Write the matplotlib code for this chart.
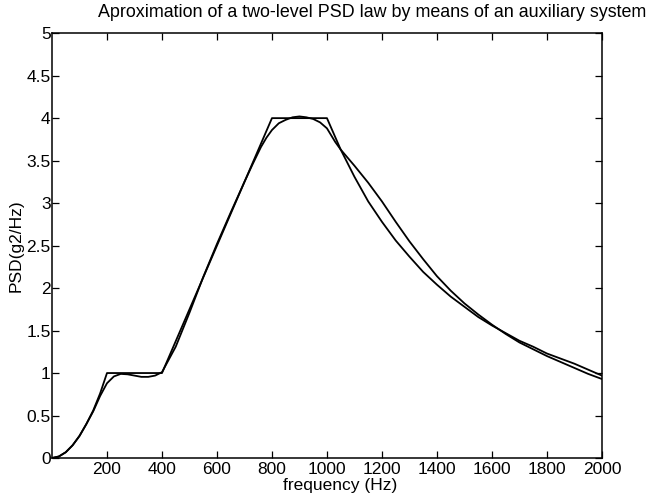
import matplotlib
matplotlib.use("Agg")
import matplotlib.pyplot as plt

plt.rcParams['font.family'] = ['Liberation Sans', 'DejaVu Sans']

# Target two-level PSD law (piecewise)
target_f = [0, 25, 50, 75, 100, 125, 150, 175, 200, 400, 800, 1000,
            1050, 1100, 1150, 1200, 1250, 1300, 1350, 1400, 1450, 1500,
            1550, 1600, 1650, 1700, 1750, 1800, 1850, 1900, 1950, 2000]
target_psd = [0, 0.018, 0.068, 0.15, 0.26, 0.40, 0.56, 0.76, 1.0, 1.0, 4.0, 4.0,
              3.63, 3.31, 3.02, 2.78, 2.56, 2.37, 2.19, 2.04, 1.90, 1.78,
              1.66, 1.56, 1.47, 1.38, 1.31, 1.23, 1.17, 1.11, 1.04, 0.97]

# Approximation obtained with the auxiliary system
approx_f = [0, 25, 50, 75, 100, 125, 150, 175, 200, 225, 250, 275, 300, 325, 350,
            375, 400, 450, 500, 550, 600, 650, 700, 730, 760, 780, 800, 825, 850,
            875, 900, 925, 950, 975, 1000, 1030, 1050, 1100, 1150, 1200, 1250,
            1300, 1350, 1400, 1450, 1500, 1550, 1600, 1650, 1700, 1750, 1800,
            1850, 1900, 1950, 2000]
approx_psd = [0, 0.018, 0.068, 0.15, 0.26, 0.40, 0.55, 0.73, 0.88, 0.96, 0.99, 0.985, 0.97, 0.955, 0.955,
              0.97, 1.01, 1.31, 1.71, 2.13, 2.52, 2.89, 3.25, 3.46, 3.66, 3.77, 3.86, 3.94, 3.98,
              4.01, 4.02, 4.01, 3.99, 3.95, 3.88, 3.72, 3.63, 3.44, 3.24, 3.02, 2.78,
              2.55, 2.34, 2.14, 1.97, 1.82, 1.69, 1.57, 1.46, 1.36, 1.28, 1.20,
              1.13, 1.06, 0.99, 0.93]

xticks = [200, 400, 600, 800, 1000, 1200, 1400, 1600, 1800, 2000]
yticks = [0, 0.5, 1, 1.5, 2, 2.5, 3, 3.5, 4, 4.5, 5]
ytick_labels = ['0', '0.5', '1', '1.5', '2', '2.5', '3', '3.5', '4', '4.5', '5']

fig = plt.figure(figsize=(6.5, 5.01), dpi=100)
ax = fig.add_axes([0.08, 0.0858, 0.846, 0.848])

ax.plot(target_f, target_psd, color='black', lw=1.3)
ax.plot(approx_f, approx_psd, color='black', lw=1.3)

ax.set_xlim(0, 2000)
ax.set_ylim(0, 5)
ax.set_xticks(xticks)
ax.set_xticklabels([str(t) for t in xticks])
ax.set_yticks(yticks)
ax.set_yticklabels(ytick_labels)
ax.tick_params(direction='in', length=5, width=0.9, top=True, right=True,
               labelsize=12.5, colors='black')
ax.tick_params(axis='y', pad=1)
ax.tick_params(axis='x', pad=3)
for s in ax.spines.values():
    s.set_linewidth(1.1)
    s.set_color('black')

ax.set_xlabel('frequency (Hz)', fontsize=12.5)
ax.xaxis.set_label_coords(0.524, -0.048)
ax.set_ylabel('PSD(g2/Hz)', fontsize=12.5)
ax.yaxis.set_label_coords(-0.052, 0.5)

ax.text(0.582, 1.049, 'Aproximation of a two-level PSD law by means of an auxiliary system',
        transform=ax.transAxes, ha='center', va='center', fontsize=12.9)

fig.savefig('out.png', dpi=100)
